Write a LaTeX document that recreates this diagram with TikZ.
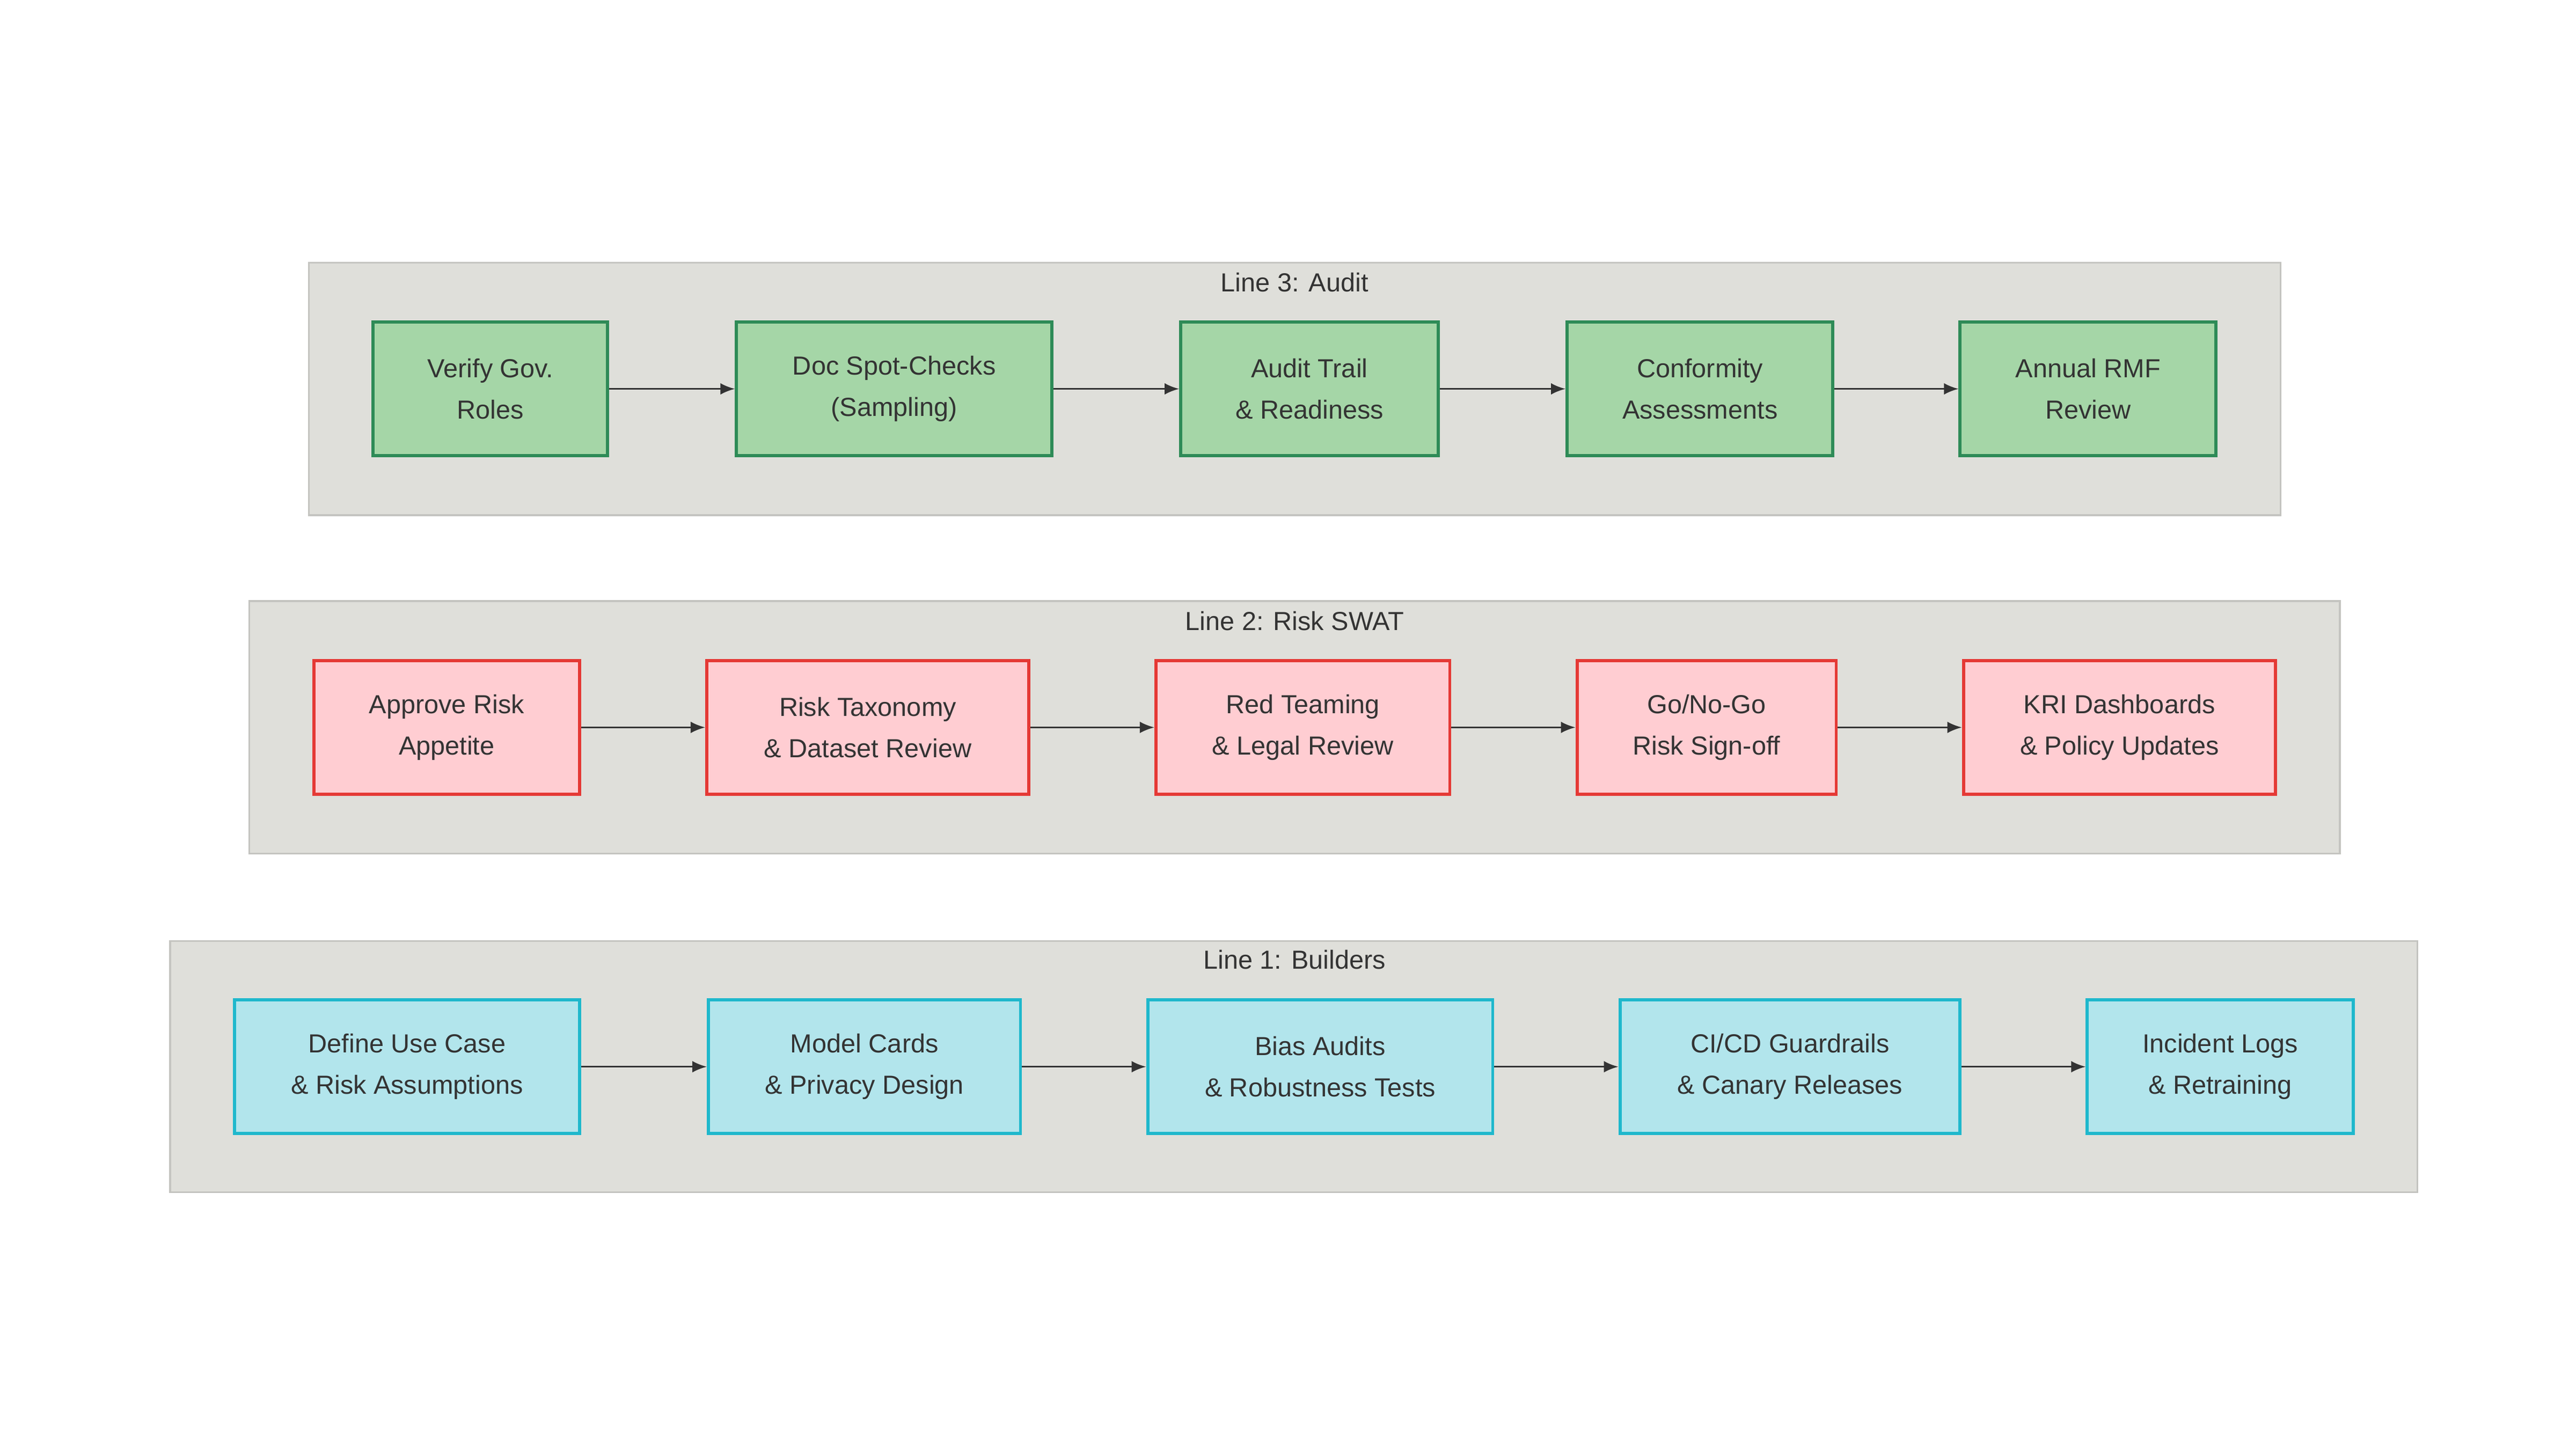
\documentclass[tikz,border=0pt]{standalone}
\usepackage{fontspec}
\setmainfont{Liberation Sans}
\usetikzlibrary{positioning, arrows.meta}

\definecolor{laneFill}{HTML}{DFDFDA}
\definecolor{laneLine}{HTML}{C4C4C0}
\definecolor{txt}{HTML}{333333}
\definecolor{auditFill}{HTML}{A5D6A7}
\definecolor{auditLine}{HTML}{2E8B57}
\definecolor{riskFill}{HTML}{FFCDD2}
\definecolor{riskLine}{HTML}{E53935}
\definecolor{buildFill}{HTML}{B2E5EC}
\definecolor{buildLine}{HTML}{1FB8CC}

\tikzset{
  lane/.style={fill=laneFill, draw=laneLine, line width=0.6pt},
  lanetitle/.style={text=txt, font=\fontsize{9}{11}\selectfont},
  stage/.style={rectangle, align=center, text=txt, line width=1.1pt,
    minimum height=1.62cm, inner sep=0pt, font=\fontsize{9}{14.2}\selectfont},
  audit/.style={stage, fill=auditFill, draw=auditLine},
  risk/.style={stage, fill=riskFill, draw=riskLine},
  build/.style={stage, fill=buildFill, draw=buildLine},
  flow/.style={draw=txt, line width=0.6pt, -{Latex[length=5pt, width=4pt]}}
}

\begin{document}
\begin{tikzpicture}[x=0.02cm, y=-0.02cm]
  \useasboundingbox (0,0) rectangle (1560,877.5);

  % Line 3
  \draw[lane] (187,159) rectangle (1381,312);
  \node[lanetitle] (t3) at (784,171) {Line 3: Audit};
  \node[audit, minimum width=2.84cm] (a1) at (297,235.5) {Verify Gov.\\Roles};
  \node[audit, minimum width=3.82cm] (a2) at (541.5,235.5) {Doc Spot-Checks\\(Sampling)};
  \node[audit, minimum width=3.12cm] (a3) at (793,235.5) {Audit Trail\\\& Readiness};
  \node[audit, minimum width=3.22cm] (a4) at (1029.5,235.5) {Conformity\\Assessments};
  \node[audit, minimum width=3.10cm] (a5) at (1264.5,235.5) {Annual RMF\\Review};

  % Line 2
  \draw[lane] (151,364) rectangle (1417,517);
  \node[lanetitle] (t2) at (784,376) {Line 2: Risk SWAT};
  \node[risk, minimum width=3.22cm] (r1) at (270.5,440.5) {Approve Risk\\Appetite};
  \node[risk, minimum width=3.90cm] (r2) at (525.5,440.5) {Risk Taxonomy\\\& Dataset Review};
  \node[risk, minimum width=3.56cm] (r3) at (789,440.5) {Red Teaming\\\& Legal Review};
  \node[risk, minimum width=3.14cm] (r4) at (1033.5,440.5) {Go/No-Go\\Risk Sign-off};
  \node[risk, minimum width=3.78cm] (r5) at (1283.5,440.5) {KRI Dashboards\\\& Policy Updates};

  % Line 1
  \draw[lane] (103,570) rectangle (1464,722);
  \node[lanetitle] (t1) at (784,581) {Line 1: Builders};
  \node[build, minimum width=4.18cm] (b1) at (246.5,646) {Define Use Case\\\& Risk Assumptions};
  \node[build, minimum width=3.78cm] (b2) at (523.5,646) {Model Cards\\\& Privacy Design};
  \node[build, minimum width=4.18cm] (b3) at (799.5,646) {Bias Audits\\\& Robustness Tests};
  \node[build, minimum width=4.12cm] (b4) at (1084,646) {CI/CD Guardrails\\\& Canary Releases};
  \node[build, minimum width=3.22cm] (b5) at (1344.5,646) {Incident Logs\\\& Retraining};

  \foreach \p in {a,r,b}{
    \foreach \i [evaluate=\i as \j using int(\i+1)] in {1,...,4}
      \draw[flow] (\p\i) -- (\p\j);
  }
\end{tikzpicture}
\end{document}
